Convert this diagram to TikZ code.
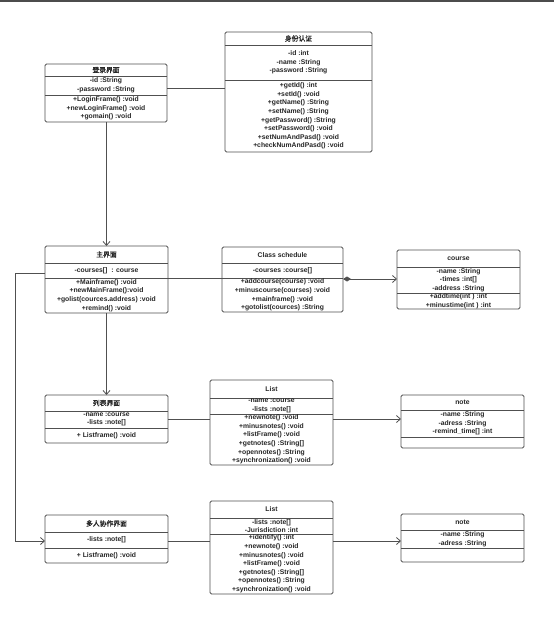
\documentclass[tikz,border=0pt]{standalone}
\usepackage{fontspec}
\setmainfont{Liberation Sans}
\newfontfamily\cjk[AutoFakeBold=1.5]{Noto Sans CJK SC}
\usetikzlibrary{arrows.meta}
\definecolor{linec}{HTML}{505050}
\tikzset{
 clsbox/.style={draw=linec, line width=0.8pt, rounded corners=1.5pt, inner sep=0pt, outer sep=0pt},
 sepline/.style={draw=linec, line width=0.8pt},
 txt/.style={align=center, font=\fontsize{6.8}{8.6}\selectfont\bfseries, inner sep=0pt, text=black!85},
 ttl/.style={txt, font=\fontsize{6.8}{8}\selectfont\bfseries},
 conn/.style={draw=linec, line width=0.8pt},
 arr/.style={conn, -{Straight Barb[length=4pt,width=7pt]}},
}
\newcommand\umlbox[7]{%
 \pgfmathsetmacro\bw{#4-#2}%
 \pgfmathsetmacro\bh{#5-#3}%
 \pgfmathsetmacro\bx{(#2+#4)/2}%
 \pgfmathsetmacro\by{(#3+#5)/2}%
 \pgfmathsetmacro\ya{(#3+#6)/2}%
 \pgfmathsetmacro\yb{(#6+#7)/2}%
 \pgfmathsetmacro\yc{(#7+#5)/2}%
 \node[clsbox, minimum width=\bw pt, minimum height=\bh pt] (#1) at (\bx,\by) {};
 \draw[sepline] (#2,#6) -- (#4,#6);
 \draw[sepline] (#2,#7) -- (#4,#7);
 \coordinate (#1-t) at (\bx,\ya);
 \coordinate (#1-a) at (\bx,\yb);
 \coordinate (#1-m) at (\bx,\yc);
}
\begin{document}
\begin{tikzpicture}[x=1pt,y=-1pt]
\useasboundingbox (0,0) rectangle (554,626);
\fill[white] (0,0) rectangle (554,626);
\fill[gray!60!black] (0,0) rectangle (554,2);

% classes
\umlbox{login}{45}{64}{167}{122}{76}{95}
\node[ttl] (loginT) at (login-t) {\cjk\bfseries 登录界面};
\node[txt] (loginA) at (login-a) {-id :String\\-password :String};
\node[txt] (loginM) at (login-m) {+LoginFrame() :void\\+newLoginFrame() :void\\+gomain() :void};

\umlbox{auth}{225}{32}{372}{152}{45}{80}
\node[ttl] (authT) at (auth-t) {\cjk\bfseries 身份认证};
\node[txt] (authA) at (auth-a) {-id :int\\-name :String\\-password :String};
\node[txt] (authM) at (auth-m) {+getId() :int\\+setId() :void\\+getName() :String\\+setName() :String\\+getPassword() :String\\+setPassword() :void\\+setNumAndPasd() :void\\+checkNumAndPasd() :void};

\umlbox{main}{45}{246}{168}{313}{263}{278}
\node[ttl] (mainT) at (main-t) {\cjk\bfseries 主界面};
\node[txt] (mainA) at (main-a) {-courses[]~~: course};
\node[txt] (mainM) at (main-m) {+Mainframe() :void\\+newMainFrame():void\\+golist(cources.address) :void\\+remind() :void};

\umlbox{sched}{222}{247}{343}{312}{263}{278}
\node[ttl] (schedT) at (sched-t) {Class schedule};
\node[txt] (schedA) at (sched-a) {-courses :course[]};
\node[txt] (schedM) at (sched-m) {+addcourse(course) :void\\+minuscourse(courses) :void\\+mainframe() :void\\+gotolist(cources) :String};

\umlbox{course}{397}{250}{520}{309}{267}{293}
\node[ttl] (courseT) at (course-t) {course};
\node[txt] (courseA) at (course-a) {-name :String\\-times :int[]\\-address :String};
\node[txt] (courseM) at (course-m) {+addtime(int ) :int\\+minustime(int ) :int};

\umlbox{listui}{45}{395}{168}{443}{411}{428}
\node[ttl] (listuiT) at (listui-t) {\cjk\bfseries 列表界面};
\node[txt] (listuiA) at (listui-a) {-name :course\\-lists :note[]};
\node[txt] (listuiM) at (listui-m) {+ Listframe() :void};

\umlbox{listA}{210}{380}{333}{465}{398}{414}
\node[ttl] (listAT) at (listA-t) {List};
\node[txt] (listAA) at (listA-a) {-name :course\\-lists :note[]};
\node[txt] (listAM) at (listA-m) {+newnote() :void\\+minusnotes() :void\\+listFrame() :void\\+getnotes() :String[]\\+opennotes() :String\\+synchronization() :void};

\umlbox{noteA}{401}{395}{524}{448}{410}{437}
\node[ttl] (noteAT) at (noteA-t) {note};
\node[txt] (noteAA) at (noteA-a) {-name :String\\-adress :String\\-remind\_time[] :int};

\umlbox{multi}{45}{515}{168}{563}{532}{548}
\node[ttl] (multiT) at (multi-t) {\cjk\bfseries 多人协作界面};
\node[txt] (multiA) at (multi-a) {-lists :note[]};
\node[txt] (multiM) at (multi-m) {+ Listframe() :void};

\umlbox{listB}{210}{501}{333}{594}{518}{534}
\node[ttl] (listBT) at (listB-t) {List};
\node[txt] (listBA) at (listB-a) {-lists :note[]\\-Jurisdiction :int};
\node[txt] (listBM) at (listB-m) {+identify() :int\\+newnote() :void\\+minusnotes() :void\\+listFrame() :void\\+getnotes() :String[]\\+opennotes() :String\\+synchronization() :void};

\umlbox{noteB}{401}{514}{524}{562}{530}{548}
\node[ttl] (noteBT) at (noteB-t) {note};
\node[txt] (noteBA) at (noteB-a) {-name :String\\-adress :String};

% connectors
\draw[conn] (login.east |- 0,88) -- (auth.west |- 0,88);
\draw[arr] (main.north |- login.south) -- (main.north);
\draw[conn] (main.east |- 0,278) -- (sched.west |- 0,278);
\draw[conn, {Diamond[fill=linec,length=8pt,width=5pt]}-{Straight Barb[length=4pt,width=7pt]}] (sched.east |- 0,279) -- (course.west |- 0,279);
\draw[arr] (main.south) -- (listui.north);
\draw[conn] (listui.east |- 0,419) -- (listA.west |- 0,419);
\draw[arr] (listA.east |- 0,419) -- (noteA.west |- 0,419);
\coordinate (bendA) at (15,273);
\coordinate (bendB) at (15,541);
\draw[arr] (main.west |- bendA) -- (bendA) -- (bendB) -- (multi.west |- bendB);
\draw[conn] (multi.east |- 0,541) -- (listB.west |- 0,541);
\draw[arr] (listB.east |- 0,541) -- (noteB.west |- 0,541);
\end{tikzpicture}
\end{document}
